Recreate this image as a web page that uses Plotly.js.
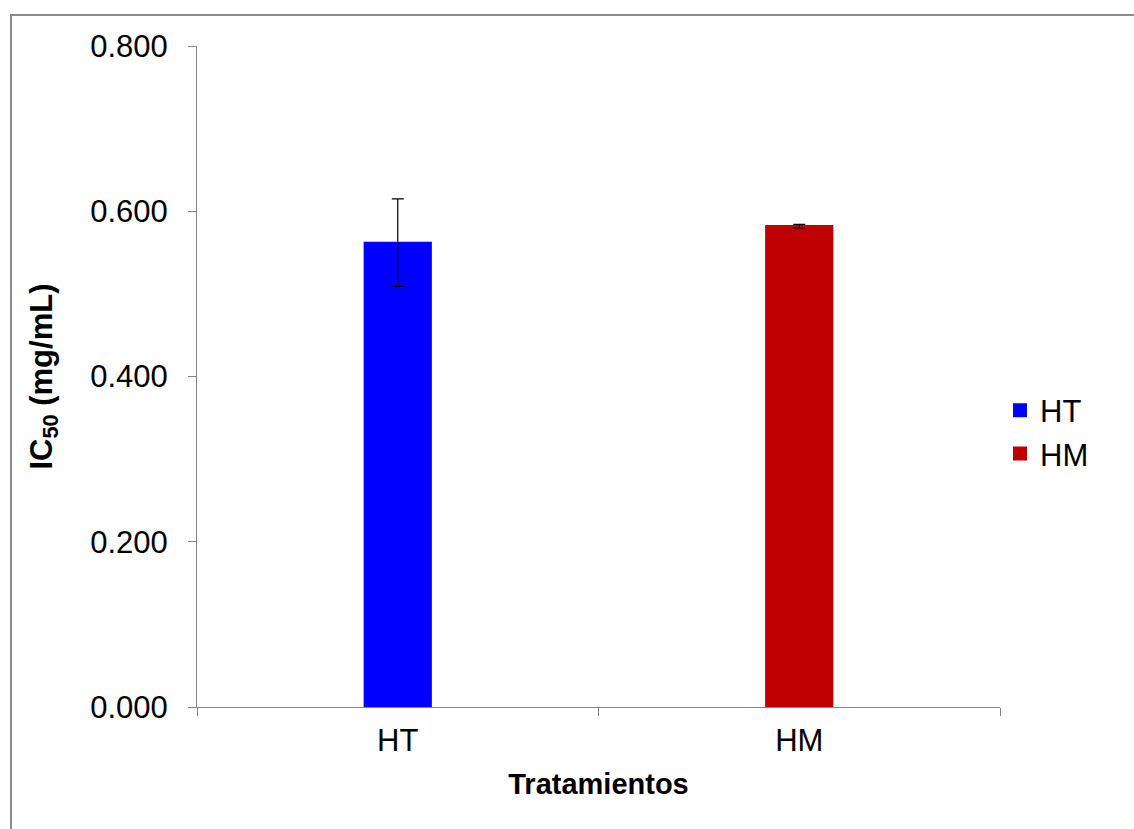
<!DOCTYPE html>
<html>
<head>
<meta charset="utf-8">
<script src="https://cdn.plot.ly/plotly-3.0.1.min.js"></script>
<style>
  html, body { margin: 0; padding: 0; background: #ffffff; overflow: hidden; }
  #frame { position: absolute; left: 10px; top: 14px; width: 1200px; height: 900px; border: 2px solid #8c8c8c; box-sizing: border-box; }
  #chart { position: absolute; left: 0; top: 0; width: 1134px; height: 829px; }
</style>
</head>
<body>
<div id="frame"></div>
<div id="chart"></div>
<script>
const categories = ["HT", "HM"];
const seriesNames = ["HT", "HM"];
const values = [0.562, 0.582];
const errors = [0.053, 0.002];
const colors = ["#0000FF", "#C00000"];
const yTicks = [0, 0.2, 0.4, 0.6, 0.8];

const traces = seriesNames.map((name, i) => ({
  type: "bar",
  name: name,
  x: [categories[i]],
  y: [values[i]],
  width: 0.165,
  marker: { color: colors[i], line: { color: colors[i], width: 2 } },
  error_y: { type: "data", array: [errors[i]], visible: true, color: "#000000", thickness: 1.2, width: 6 },
  hoverinfo: "none"
}));

const layout = {
  width: 1134,
  height: 829,
  margin: { l: 197, r: 134, t: 46, b: 122 },
  paper_bgcolor: "rgba(0,0,0,0)",
  plot_bgcolor: "rgba(0,0,0,0)",
  barmode: "overlay",
  font: { family: "Liberation Sans, Arial, sans-serif", color: "#000000", size: 24 },
  showlegend: true,
  legend: {
    x: 1.0, y: 0.416, xanchor: "left", yanchor: "middle",
    font: { size: 31, color: "#000000" },
    itemwidth: 30, tracegroupgap: 0, bgcolor: "rgba(0,0,0,0)"
  },
  xaxis: {
    type: "category",
    categoryorder: "array",
    categoryarray: categories,
    range: [-0.5, 1.5],
    tickson: "boundaries",
    ticks: "outside",
    ticklen: 8,
    tickcolor: "#868686",
    tickwidth: 1,
    showline: true,
    linecolor: "#868686",
    linewidth: 1,
    showgrid: false,
    zeroline: false,
    tickfont: { size: 31 },
    ticklabelstandoff: 6,
    title: { text: "<b>Tratamientos</b>", font: { size: 29 }, standoff: 16 }
  },
  yaxis: {
    range: [0, 0.8],
    tickvals: yTicks,
    tickformat: ".3f",
    ticks: "outside",
    ticklen: 8,
    tickcolor: "#868686",
    tickwidth: 1,
    showline: true,
    linecolor: "#868686",
    linewidth: 1,
    showgrid: false,
    zeroline: false,
    tickfont: { size: 31 },
    ticklabelstandoff: 14,
    title: { text: "<b>IC<sub>50</sub> (mg/mL)</b>", font: { size: 31 }, standoff: 28 }
  }
};

Plotly.newPlot("chart", traces, layout, { displayModeBar: false, staticPlot: true });
</script>
</body>
</html>
